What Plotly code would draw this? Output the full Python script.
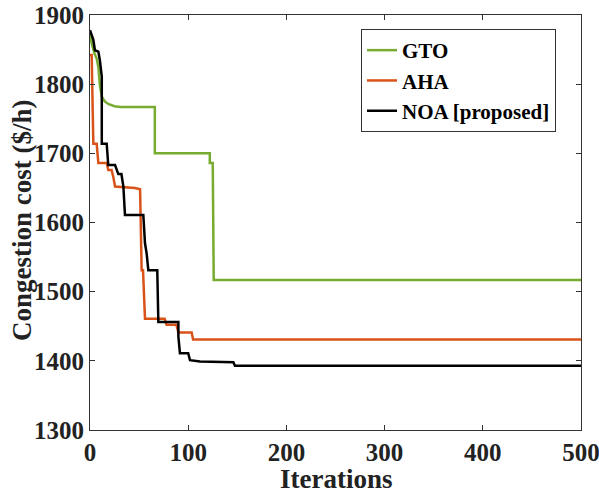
import plotly.graph_objects as go

# GTO convergence breakpoints
gto_iter = [0, 1.7, 4.4, 6.8, 8.5, 10, 12, 15, 19, 25, 31, 66, 66, 122, 122, 125, 126, 500]
gto_cost = [1876, 1859, 1845, 1837, 1825, 1799, 1782, 1775, 1771, 1768, 1767, 1767, 1700, 1700, 1686, 1686, 1517, 1517]

# AHA convergence breakpoints
aha_iter = [0, 1.7, 3.4, 6.8, 8.5, 17, 18.6, 22, 23.7, 25.5, 45.8, 51, 52.6, 54, 56, 76, 78, 88, 90, 103.5, 105, 500]
aha_cost = [1842, 1842, 1714, 1714, 1686, 1686, 1676, 1676, 1666, 1652, 1650, 1648, 1531, 1531, 1461, 1461, 1452, 1452, 1441, 1441, 1431, 1431]

# NOA convergence breakpoints
noa_iter = [0, 3.4, 5, 8.5, 10, 12, 12, 17, 18.6, 25.5, 28.8, 32, 34, 35.6, 54.3, 56, 57.7, 59.4, 68.5, 69.6, 90, 90, 91.6, 100, 101.8, 112, 146, 147.6, 500]
noa_cost = [1878, 1864, 1849, 1847, 1835, 1811, 1714, 1714, 1683, 1683, 1670, 1670, 1652, 1611, 1611, 1570, 1555, 1531, 1531, 1456, 1456, 1435, 1411, 1411, 1401, 1399, 1398, 1393, 1393]

x_ticks = [0, 100, 200, 300, 400, 500]
y_ticks = [1300, 1400, 1500, 1600, 1700, 1800, 1900]

FONT = "Liberation Serif"
AX = "#333333"
fig = go.Figure()
fig.add_trace(go.Scatter(x=gto_iter, y=gto_cost, mode="lines", name="<b>GTO</b>",
                         line=dict(color="#77AC30", width=2.5)))
fig.add_trace(go.Scatter(x=aha_iter, y=aha_cost, mode="lines", name="<b>AHA</b>",
                         line=dict(color="#D95319", width=2.5)))
fig.add_trace(go.Scatter(x=noa_iter, y=noa_cost, mode="lines", name="<b>NOA [proposed]</b>",
                         line=dict(color="#000000", width=2.5)))

axis_common = dict(showgrid=False, zeroline=False, showline=True, linecolor=AX, linewidth=1,
                   mirror="ticks", ticks="inside", ticklen=5, tickcolor=AX, automargin=False,
                   ticklabeloverflow="allow",
                   tickfont=dict(family=FONT, size=25, color="#222222"))

fig.update_xaxes(range=[0, 500], tickvals=x_ticks, ticktext=[f"<b>{v}</b>" for v in x_ticks],
                 **axis_common)
fig.update_yaxes(range=[1300, 1900], tickvals=y_ticks, ticktext=[f"<b>{v}</b>" for v in y_ticks],
                 **axis_common)

fig.add_annotation(text="<b>Congestion cost ($/h)</b>", textangle=-90,
                   xref="paper", yref="paper", x=-68 / 491, y=0.506,
                   xanchor="center", yanchor="middle", showarrow=False,
                   font=dict(family=FONT, size=27, color="#222222"))
fig.add_annotation(text="<b>Iterations</b>",
                   xref="paper", yref="paper", x=0.5, y=-32 / 415,
                   xanchor="center", yanchor="top", showarrow=False,
                   font=dict(family=FONT, size=27, color="#222222"))

fig.update_layout(
    width=599, height=496,
    margin=dict(l=90, r=18, t=15, b=66),
    plot_bgcolor="white", paper_bgcolor="white",
    font=dict(family=FONT, color="#000000"),
    legend=dict(x=(361 - 90) / 491, y=1 - 14 / 415, xanchor="left", yanchor="top",
                bgcolor="white", bordercolor=AX, borderwidth=1,
                font=dict(family=FONT, size=21, color="#000000"),
                tracegroupgap=0, itemwidth=30),
    showlegend=True,
)

fig.write_html("out.html")
